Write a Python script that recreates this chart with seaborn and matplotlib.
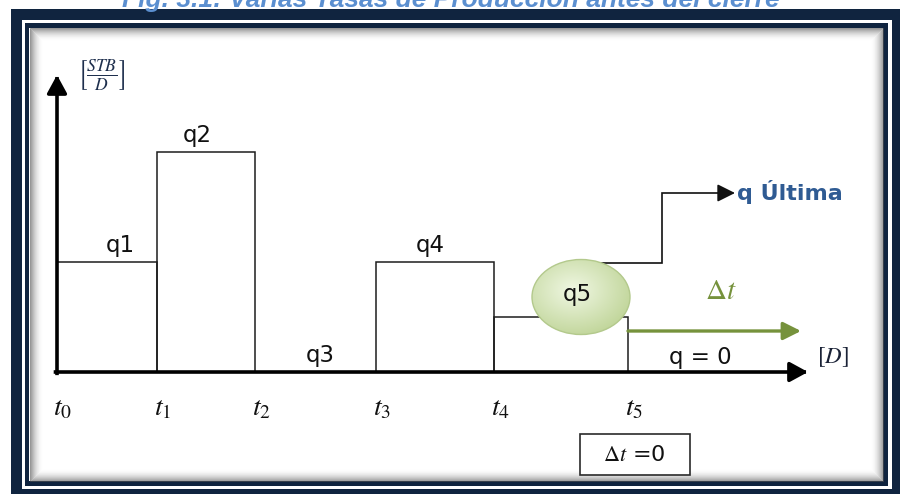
import numpy as np
import matplotlib
matplotlib.use("Agg")
import matplotlib.pyplot as plt
import matplotlib.transforms as mtransforms
from matplotlib.patches import Rectangle, Ellipse
import seaborn as sns

# Production periods: boundaries in days and the rate held in each period
t_edges = [0.0, 10.0, 19.8, 31.9, 43.7, 57.1]
rates = [50, 100, 0, 50, 25]
rate_names = ["q1", "q2", "q3", "q4"]
time_names = [r"$t_0$", r"$t_1$", r"$t_2$", r"$t_3$", r"$t_4$", r"$t_5$"]
title = "Fig. 3.1: Varias Tasas de Producción antes del cierre"

sns.set_theme(style="white")
plt.rcParams["font.family"] = ["DejaVu Sans"]
plt.rcParams["mathtext.fontset"] = "stix"

W, H = 900, 494
fig = plt.figure(figsize=(W / 100, H / 100), dpi=100)
fig.patch.set_facecolor("white")
ax = fig.add_axes([0, 0, 1, 1])
ax.set_xlim(-5.7, 84.3)
ax.set_ylim(-55.45, 169.09)
ax.axis("off")

# pixel space with origin at top-left, used for the frame and annotations
px = mtransforms.Affine2D().scale(1 / W, -1 / H).translate(0, 1) + fig.transFigure

navy = "#10243f"

def prect(x0, y0, x1, y1, **kw):
    r = Rectangle((x0, y0), x1 - x0, y1 - y0, transform=px, clip_on=False, **kw)
    ax.add_patch(r)
    return r

# framed panel
prect(11, 9, 900, 494, facecolor=navy, edgecolor="none", zorder=0)
prect(22, 20, 892, 489, facecolor="white", edgecolor="none", zorder=0.1)
prect(25, 23, 888, 486, facecolor=navy, edgecolor="none", zorder=0.2)
prect(29, 28, 883, 481, facecolor="white", edgecolor="none", zorder=0.3)
for i in range(13):
    a = 0.6 * (1 - i / 13) ** 2
    prect(29 + i + 0.5, 28 + i + 0.5, 883 - i - 0.5, 481 - i - 0.5,
          facecolor="none", edgecolor=(0.33, 0.33, 0.33, a), linewidth=0.75,
          zorder=0.4)

ax.text(451, 6.5, title, transform=px, ha="center", va="baseline",
        fontsize=19, fontweight="bold", fontstyle="italic", color="#5b8fd0",
        family="Liberation Sans", clip_on=False, zorder=0.05)

# rate periods as open rectangles
widths = np.diff(t_edges)
ax.bar(t_edges[:-1], rates, width=widths, align="edge", fill=False,
       edgecolor="#1c1c1c", linewidth=1.1, zorder=2)

# axes with arrow heads
ax_kw = dict(arrowstyle="-|>,head_length=0.55,head_width=0.3", color="black",
             lw=2.6, mutation_scale=20, shrinkA=0, shrinkB=0, capstyle="projecting")
ax.annotate("", xy=(0, 135), xytext=(0, -0.6), arrowprops=ax_kw, zorder=3)
ax.annotate("", xy=(75.1, 0), xytext=(-0.15, 0), arrowprops=ax_kw, zorder=3)

# period labels
label_x = [6.3, 14.0, 26.3, 37.3]
for name, lx, q in zip(rate_names, label_x, rates):
    ax.text(lx, q + 7.5, name, ha="center", va="center", fontsize=16.5,
            color="#111111", zorder=4)

for name, te in zip(time_names, t_edges):
    ax.text(te + 0.6, -16.2, name, ha="center", va="center", fontsize=20,
            color="#111111", zorder=4)

ax.text(101, 75, r"$\left[\frac{STB}{D}\right]$", transform=px, ha="center",
        va="center", fontsize=18, color="#1e2f4d", zorder=4)
ax.text(833, 357, r"$[D]$", transform=px, ha="center", va="center",
        fontsize=16.5, color="#1a2236", zorder=4)
ax.text(700, 357, "q = 0", transform=px, ha="center", va="center",
        fontsize=16.5, color="#111111", zorder=4)

# q5 bubble
ell = Ellipse((581, 297), 98, 75, transform=px, facecolor="none",
              edgecolor="#b3c98c", linewidth=1.0, zorder=5, clip_on=False)
yy, xx = np.mgrid[0:1:120j, 0:1:160j]
r = np.sqrt(((xx - 0.42) / 0.62) ** 2 + ((yy - 0.40) / 0.62) ** 2)
r = np.clip(r, 0, 1)
c0 = np.array([0.94, 0.97, 0.89])
c1 = np.array([0.76, 0.84, 0.61])
img = c0[None, None, :] * (1 - r[..., None]) + c1[None, None, :] * r[..., None]
im = ax.imshow(img, extent=(532, 630, 335, 260), transform=px, zorder=4.5,
               interpolation="bilinear", aspect="auto")
im.set_clip_path(Ellipse((581, 297), 98, 75, transform=px))
ax.add_patch(ell)
ax.text(577, 294, "q5", transform=px, ha="center", va="center",
        fontsize=16.5, color="#111111", zorder=6)

# ultimate rate pointer
ax.plot([598, 662, 662, 726], [263, 263, 193, 193], transform=px,
        color="#111111", lw=1.2, zorder=3, clip_on=False, solid_joinstyle="miter")
ax.annotate("", xy=(735, 193), xytext=(722, 193), xycoords=px, textcoords=px,
            arrowprops=dict(arrowstyle="-|>,head_length=0.6,head_width=0.3",
                            color="#111111", lw=1.2, mutation_scale=18,
                            shrinkA=0, shrinkB=0), zorder=3)
ax.text(737, 192, "q Última", transform=px, ha="left", va="center",
        fontsize=16, fontweight="bold", color="#2f5b93", zorder=4)

# shut-in interval arrow
green = "#76923c"
ax.annotate("", xy=(801, 331), xytext=(628, 331), xycoords=px, textcoords=px,
            arrowprops=dict(arrowstyle="-|>,head_length=0.6,head_width=0.3",
                            color=green, lw=2.4, mutation_scale=18,
                            shrinkA=0, shrinkB=0), zorder=3)
ax.text(721, 291, r"$\Delta t$", transform=px, ha="center", va="center",
        fontsize=21, color=green, zorder=4)

# zero-interval box
prect(580, 434, 690, 475, facecolor="white", edgecolor="#2a2a2a",
      linewidth=1.2, zorder=4)
ax.text(634, 455, r"$\Delta t$ =0", transform=px, ha="center", va="center",
        fontsize=16, color="#111111", zorder=5)

fig.savefig("out.png", dpi=100)
